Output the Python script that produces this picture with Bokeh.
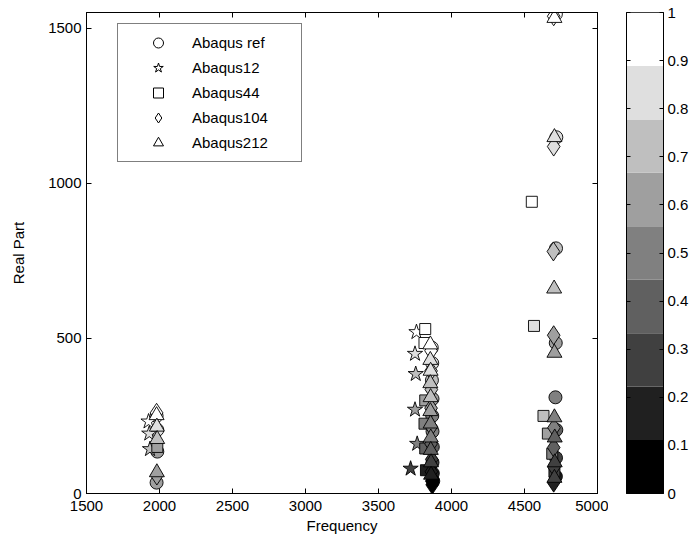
import math
from bokeh.plotting import figure
from bokeh.models import (LinearColorMapper, Legend, LegendItem, LinearAxis, FixedTicker,
                          CustomJSTickFormatter, ColumnDataSource, Range1d)
from bokeh.layouts import row
from bokeh.embed import file_html
from bokeh.resources import INLINE

# ---------------- data ----------------
ref_freq = [1980, 1985, 1985, 1980, 3865, 3868, 3866, 3870, 3868, 3870, 3872, 3870, 3872, 3875,
            4715, 4718, 4716, 4714, 4712, 4718, 4716, 4715]
ref_real = [250, 205, 135, 35, 470, 420, 365, 305, 250, 200, 150, 100, 65, 40,
            1545, 1148, 790, 485, 310, 205, 115, 55]
ref_val = [0.95, 0.8, 0.6, 0.6, 0.95, 0.85, 0.75, 0.65, 0.55, 0.45, 0.35, 0.25, 0.15, 0.05,
           0.95, 0.82, 0.72, 0.6, 0.5, 0.42, 0.3, 0.2]

a12_freq = [1925, 1930, 1935, 3760, 3750, 3755, 3750, 3765, 3720]
a12_real = [232, 193, 143, 520, 450, 385, 270, 160, 80]
a12_val = [0.95, 0.85, 0.75, 0.95, 0.85, 0.75, 0.6, 0.5, 0.3]

a44_freq = [1985, 3820, 3815, 3820, 3815, 3820, 3825, 4550, 4565, 4630, 4660, 4690, 4705]
a44_real = [150, 530, 485, 300, 225, 145, 75, 940, 540, 250, 193, 128, 70]
a44_val = [0.6, 0.95, 0.92, 0.62, 0.55, 0.4, 0.2, 0.95, 0.82, 0.7, 0.6, 0.45, 0.3]

a104_freq = [1980, 1982, 3860, 3860, 3862, 3860, 3862, 3860, 3865, 3862, 3865, 3868,
             4700, 4700, 4698, 4700, 4702, 4700, 4702, 4700]
a104_real = [260, 58, 460, 395, 335, 275, 215, 160, 110, 70, 40, 28,
             1538, 1118, 780, 510, 212, 148, 85, 35]
a104_val = [0.95, 0.6, 0.95, 0.85, 0.72, 0.62, 0.52, 0.4, 0.3, 0.18, 0.05, 0.02,
            0.95, 0.82, 0.72, 0.6, 0.45, 0.4, 0.3, 0.2]

a212_freq = [1980, 1982, 1984, 1982, 3855, 3855, 3857, 3855, 3857, 3855, 3857, 3858, 3858, 3860, 3860,
             4705, 4705, 4703, 4705, 4705, 4707, 4707, 4705]
a212_real = [252, 215, 175, 68, 480, 430, 395, 355, 310, 265, 225, 180, 140, 100, 60,
             1532, 1148, 660, 453, 245, 180, 100, 50]
a212_val = [0.95, 0.85, 0.72, 0.6, 0.95, 0.88, 0.82, 0.75, 0.7, 0.62, 0.55, 0.45, 0.38, 0.28, 0.15,
            0.95, 0.82, 0.72, 0.6, 0.5, 0.38, 0.3, 0.25]

series_names = ["Abaqus ref", "Abaqus12", "Abaqus44", "Abaqus104", "Abaqus212"]

x_ticks = [1500, 2000, 2500, 3000, 3500, 4000, 4500, 5000]
y_ticks = [0, 500, 1000, 1500]
cb_ticks = [0, 0.1, 0.2, 0.3, 0.4, 0.5, 0.6, 0.7, 0.8, 0.9, 1.0]

GRAYS = ["#000000", "#202020", "#404040", "#606060", "#808080",
         "#9F9F9F", "#BFBFBF", "#DFDFDF", "#FFFFFF"]

FONT = "Liberation Sans"
FS = "15px"
H = 543

mapper = LinearColorMapper(palette=GRAYS, low=0, high=1)
blank = CustomJSTickFormatter(code="return '';")

p = figure(width=608, height=H, x_range=Range1d(1500, 5000), y_range=Range1d(0, 1550),
           output_backend="svg", toolbar_location=None,
           min_border_left=86, min_border_right=11, min_border_top=12, min_border_bottom=50)
p.grid.visible = False
p.outline_line_color = "black"
p.outline_line_width = 1
p.background_fill_color = "white"
p.border_fill_color = "white"


def style_axis(ax, ticks, show_labels=True):
    ax.ticker = FixedTicker(ticks=ticks)
    ax.major_tick_in = 5
    ax.major_tick_out = 0
    ax.minor_tick_line_color = None
    ax.axis_line_color = "black"
    ax.major_tick_line_color = "black"
    if show_labels:
        ax.major_label_text_font = FONT
        ax.major_label_text_font_size = FS
        ax.major_label_text_color = "black"
    else:
        ax.formatter = blank
        ax.major_label_text_font_size = "1px"
        ax.major_label_standoff = 0


style_axis(p.xaxis[0], x_ticks)
style_axis(p.yaxis[0], y_ticks)
p.xaxis[0].major_label_standoff = 7
p.yaxis[0].major_label_standoff = 5
p.xaxis.axis_label = "Frequency"
p.yaxis.axis_label = "Real Part"
for ax in (p.xaxis[0], p.yaxis[0]):
    ax.axis_label_text_font = FONT
    ax.axis_label_text_font_size = FS
    ax.axis_label_text_font_style = "normal"
    ax.axis_label_text_color = "black"
p.xaxis[0].axis_label_standoff = 3
p.yaxis[0].axis_label_standoff = 18

top_ax = LinearAxis()
style_axis(top_ax, x_ticks, show_labels=False)
p.add_layout(top_ax, "above")
right_ax = LinearAxis()
style_axis(right_ax, y_ticks, show_labels=False)
p.add_layout(right_ax, "right")

specs = [
    (ref_freq, ref_real, ref_val, "circle", 13),
    (a12_freq, a12_real, a12_val, "star", 16),
    (a44_freq, a44_real, a44_val, "square", 11),
    (a104_freq, a104_real, a104_val, "diamond", 19),
    (a212_freq, a212_real, a212_val, "triangle", 15),
]

items = []
for name, (fx, fy, fv, mk, sz) in zip(series_names, specs):
    src = ColumnDataSource(dict(x=fx, y=fy, c=fv))
    p.scatter("x", "y", source=src, marker=mk, size=sz,
              fill_color={"field": "c", "transform": mapper},
              line_color="black", line_width=0.9)
    # legend-only renderer (no visible data point)
    dummy = p.scatter(x=[math.nan], y=[math.nan], marker=mk, fill_color=None,
                      line_color="black", line_width=1)
    items.append(LegendItem(label=name, renderers=[dummy]))

legend = Legend(items=items, location=(31, 331), padding=6, spacing=0,
                glyph_width=68, glyph_height=25, label_height=25, label_width=103,
                label_standoff=0, label_text_font=FONT, label_text_font_size=FS,
                label_text_color="black", border_line_color="black", border_line_width=1,
                background_fill_color="white", background_fill_alpha=1, margin=0)
p.add_layout(legend, "center")

# ---------------- colorbar ----------------
cb = figure(width=85, height=H, x_range=Range1d(0, 1), y_range=Range1d(0, 1),
            output_backend="svg", toolbar_location=None,
            x_axis_location=None, y_axis_location=None,
            min_border_left=18, min_border_right=30, min_border_top=12, min_border_bottom=50)
cb.grid.visible = False
cb.outline_line_color = "black"
cb.border_fill_color = "white"
n = len(GRAYS)
cb.quad(left=0, right=1, bottom=[i / n for i in range(n)], top=[(i + 1) / n for i in range(n)],
        fill_color=GRAYS, line_color=None)

cb_left = LinearAxis()
style_axis(cb_left, cb_ticks, show_labels=False)
cb_left.major_tick_in = 4
cb.add_layout(cb_left, "left")
cb_right = LinearAxis()
style_axis(cb_right, cb_ticks)
cb_right.major_tick_in = 4
cb_right.major_label_standoff = 4
cb_right.formatter = CustomJSTickFormatter(code="return Number(tick.toFixed(1)).toString();")
cb.add_layout(cb_right, "right")

layout = row(p, cb)
open("out.html", "w").write(file_html(layout, INLINE))
